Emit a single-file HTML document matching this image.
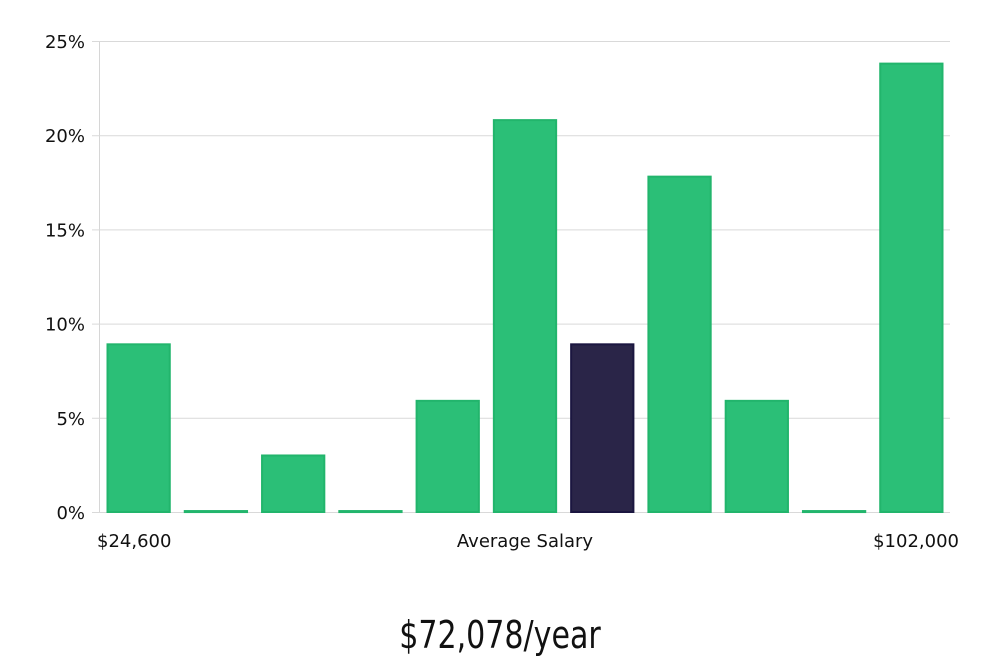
<!DOCTYPE html>
<html><head><meta charset="utf-8"><style>
body{margin:0;background:#fff;width:1000px;height:660px;overflow:hidden}
svg{display:block}
text{font-family:"DejaVu Sans","Liberation Sans",sans-serif}
</style></head><body>
<svg id="chart" width="1000" height="660">
<g id="grid"></g><g id="bars"></g><g id="labels"></g>
<text x="500" y="648" text-anchor="middle" font-size="38" fill="#111" style="font-family:'DejaVu Sans Condensed','Liberation Sans',sans-serif" transform="translate(500,0) scale(0.88,1) translate(-500,0)">$72,078/year</text>
</svg>
<script>
const categories=["b1","b2","b3","b4","b5","b6","b7","b8","b9","b10","b11"];
const values=[8.9,0.05,3.0,0.05,5.9,20.8,8.9,17.8,5.9,0.05,23.8];
const highlightIndex=6;
const yTicks=[0,5,10,15,20,25];
const yTickLabels=["0%","5%","10%","15%","20%","25%"];
const xLabels=["$24,600","Average Salary","$102,000"];
const NS="http://www.w3.org/2000/svg";
const x0=100,x1=950,y0=512,yTop=41,yMax=25;
const y=v=>y0-(v/yMax)*(y0-yTop);
const slot=(x1-x0)/categories.length;
const xs=i=>x0+i*slot;
function mk(t,a,p){const e=document.createElementNS(NS,t);for(const k in a)e.setAttribute(k,a[k]);p.appendChild(e);return e;}
const g=document.getElementById('grid'),b=document.getElementById('bars'),l=document.getElementById('labels');
const ax=mk('line',{x1:99.5,x2:99.5,y1:yTop,y2:y0,stroke:'#d6d6d6'},g);


yTicks.forEach((t,i)=>{
 const ln=mk('line',{x1:92,x2:x1,y1:y(t)+0.5,y2:y(t)+0.5,stroke:'#d9d9d9'},g);
 
 
 const tx=mk('text',{x:85,y:y(t)+7,'text-anchor':'end','font-size':18,fill:'#111'},l);
 tx.textContent=yTickLabels[i];
 
 
});
values.forEach((v,i)=>{
 const hi=i===highlightIndex;
 const r=mk('rect',{x:xs(i)+7.5,y:y(v),width:slot-15,height:Math.max(1,y0-y(v)),fill:hi?'#2a2548':'#2bbf77',stroke:hi?'#1b1640':'#22b56c','stroke-width':2},b);
 
 
});
const xl=[[97,'start'],[525,'middle'],[959,'end']];
xLabels.forEach((s,i)=>{
 const tx=mk('text',{x:xl[i][0],y:547,'text-anchor':xl[i][1],'font-size':18,fill:'#111'},l);
 tx.textContent=s;
 
 
});
</script>
</body></html>
